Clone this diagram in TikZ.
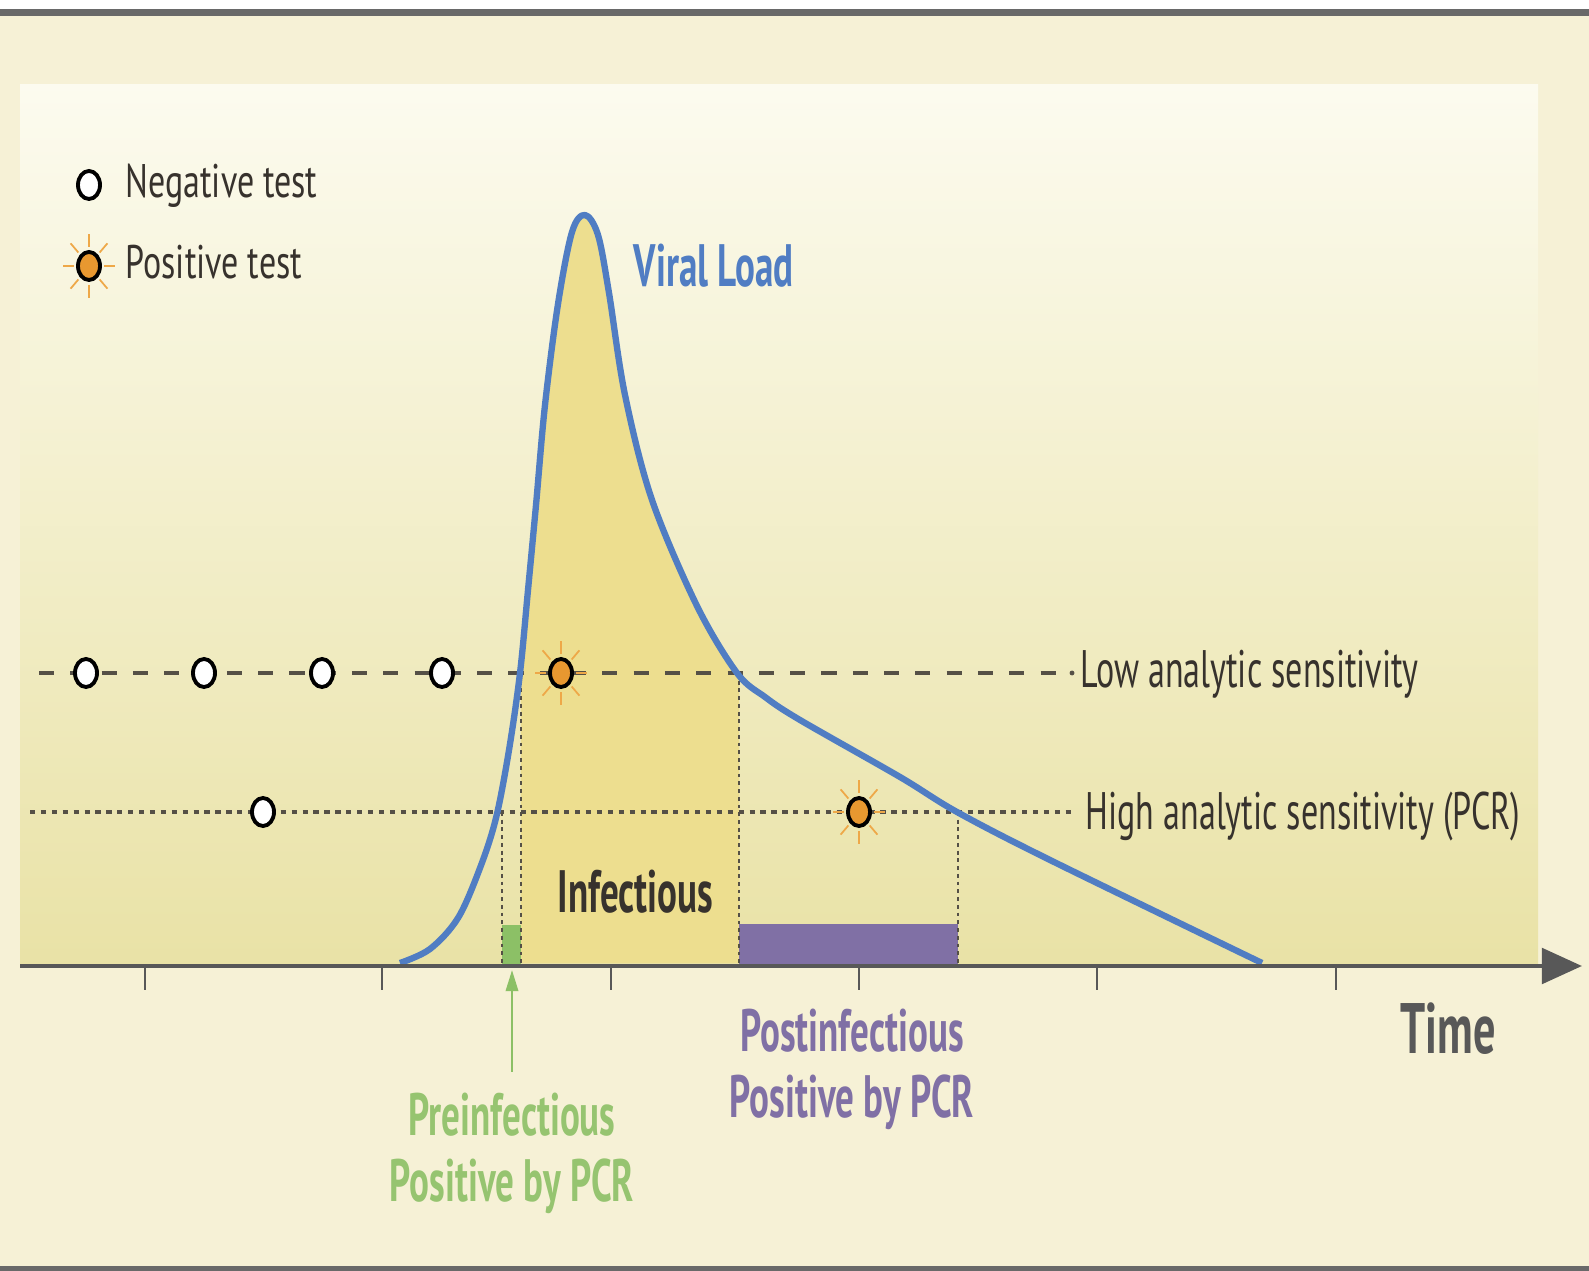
\documentclass[tikz,border=0pt]{standalone}
\usepackage{fontspec}
\newfontfamily\lblfont[FakeStretch=0.62]{PT Sans}
\newfontfamily\linefont[FakeStretch=0.645]{PT Sans}
\newfontfamily\legfont[FakeStretch=0.72]{PT Sans}
\usetikzlibrary{arrows.meta,shapes.geometric,positioning}

\definecolor{outercream}{RGB}{246,241,214}
\definecolor{framegray}{RGB}{105,105,105}
\definecolor{paneltop}{RGB}{252,251,239}
\definecolor{panelbot}{RGB}{233,226,166}
\definecolor{infectfill}{RGB}{237,222,143}
\definecolor{linegray}{RGB}{85,80,70}
\definecolor{axisgray}{RGB}{88,88,88}
\definecolor{loadblue}{RGB}{80,125,195}
\definecolor{txtgray}{RGB}{55,50,45}
\definecolor{dotorange}{RGB}{232,152,48}
\definecolor{rayorange}{RGB}{238,168,72}
\definecolor{pregreen}{RGB}{140,192,102}
\definecolor{pretxt}{RGB}{150,196,112}
\definecolor{postpurple}{RGB}{128,112,165}

% viral load curve, in pixel units
\newcommand{\loadcurve}{plot[smooth,tension=0.55] coordinates {(400,963) (430,949) (458,918) (480,868) (496,818) (509,750) (520,673) (528,590) (536,505) (545,405) (558,304) (572,232) (585,215) (598,235) (609,293) (625,395) (652,500) (697,606) (737,673) (765,697) (800,720) (900,777) (957,812) (1050,860) (1262,963)}}

\begin{document}
\begin{tikzpicture}[x=0.01cm, y=-0.01cm,
  lowline/.style={draw=linegray, line width=1.4pt, dash pattern=on 4.3pt off 4.6pt},
  highline/.style={draw=linegray, line width=1.3pt, dash pattern=on 1.5pt off 1.6pt},
  guide/.style={draw=linegray, line width=0.6pt, dash pattern=on 1.1pt off 1.1pt},
  negdot/.style={ellipse, draw=black, fill=white, line width=1.1pt, minimum width=0.22cm, minimum height=0.28cm, inner sep=0pt},
  posdot/.style={negdot, fill=dotorange},
  ray/.style={draw=rayorange, line width=0.5pt},
  tick/.style={draw=axisgray, line width=0.6pt},
  lbl/.style={inner sep=0pt, anchor=base west, text=txtgray},
  legendtxt/.style={lbl, font=\legfont\fontsize{13.4}{16}\selectfont},
  linetxt/.style={lbl, font=\linefont\fontsize{15}{18}\selectfont},
  bigtxt/.style={lbl, font=\lblfont\bfseries\fontsize{17}{20}\selectfont},
  phasetxt/.style={inner sep=0pt, anchor=north, align=center, font=\lblfont\bfseries\fontsize{17}{18.8}\selectfont}
]
\useasboundingbox (0,0) rectangle (1589,1271);

% background and frame
\fill[outercream] (0,0) rectangle (1589,1271);
\fill[white] (0,0) rectangle (1589,9);
\fill[framegray] (0,9) rectangle (1589,16);
\fill[framegray] (0,1266) rectangle (1589,1271);
\shade[top color=paneltop, bottom color=panelbot] (20,85) rectangle (1538,966);

% infectious window under the curve
\begin{scope}
\clip (521,0) rectangle (739,966);
\fill[infectfill] \loadcurve -- cycle;
\end{scope}

% PCR positive bars
\fill[pregreen] (502,925) rectangle (521,964);
\fill[postpurple] (739,924) rectangle (958,964);

% test lines
\node[linetxt] (lowlbl) at (1080,688) {Low analytic sensitivity};
\node[linetxt] (highlbl) at (1085,829) {High analytic sensitivity (PCR)};
\coordinate (lowstart) at (39,673);
\coordinate (highstart) at (30,812);
\draw[lowline] (lowstart) -- ([xshift=-0.14cm]lowstart -| lowlbl.west);
\fill[linegray] ([xshift=-0.08cm]lowstart -| lowlbl.west) circle (0.7pt);
\draw[highline] (highstart) -- ([xshift=-0.12cm]highstart -| highlbl.west);

% guides down to the axis
\draw[guide] (502,812) -- (502,964);
\draw[guide] (521,673) -- (521,964);
\draw[guide] (739,673) -- (739,964);
\draw[guide] (958,812) -- (958,964);

% viral load
\draw[loadblue, line width=1.8pt, line join=round] \loadcurve;
\node[bigtxt, text=loadblue] (vload) at (633,287) {Viral Load};

% horizontal axis
\coordinate (ax0) at (20,966);
\coordinate (ax1) at (1582,966);
\draw[axisgray, line width=1.4pt, -{Triangle[length=11.4pt,width=10pt]}] (ax0) -- (ax1);
\foreach \t in {145,382,611,859,1097,1336}
  \draw[tick] (\t,966) -- (\t,990);
\node[lbl, font=\lblfont\bfseries\fontsize{20.3}{24}\selectfont, text=axisgray] (time) at (1400,1053) {Time};

% tests on the lines
\node[negdot] (n1) at (86,673) {};
\node[negdot] (n2) at (204,673) {};
\node[negdot] (n3) at (322,673) {};
\node[negdot] (n4) at (442,673) {};
\node[posdot] (p1) at (561,673) {};
\node[negdot] (n5) at (263,812) {};
\node[posdot] (p2) at (859,812) {};

% legend
\node[negdot] (legneg) at (89,185) {};
\node[posdot] (legpos) at (89,266) {};
\node[legendtxt] (negtxt) at (125,198) {Negative test};
\node[legendtxt] (postxt) at (125,279) {Positive test};

\foreach \n in {p1,p2,legpos}
  \foreach \a in {0,45,...,315}
    \draw[ray, shift={(\n.center)}] (\a:0.15cm and 0.19cm) -- (\a:0.26cm and 0.32cm);

% phase labels
\node[bigtxt] (inf) at (557,912) {Infectious};
\node[phasetxt, text=pretxt] (pre) at (512,1092) {Preinfectious\\Positive by PCR};
\node[phasetxt, text=postpurple] (post) at (852,1008) {Postinfectious\\Positive by PCR};
\coordinate (prebot) at (512,970);
\draw[pregreen, line width=0.7pt, shorten <=0.2cm, -{Triangle[length=6pt,width=3.5pt]}] (pre.north) -- (prebot);

\end{tikzpicture}
\end{document}
